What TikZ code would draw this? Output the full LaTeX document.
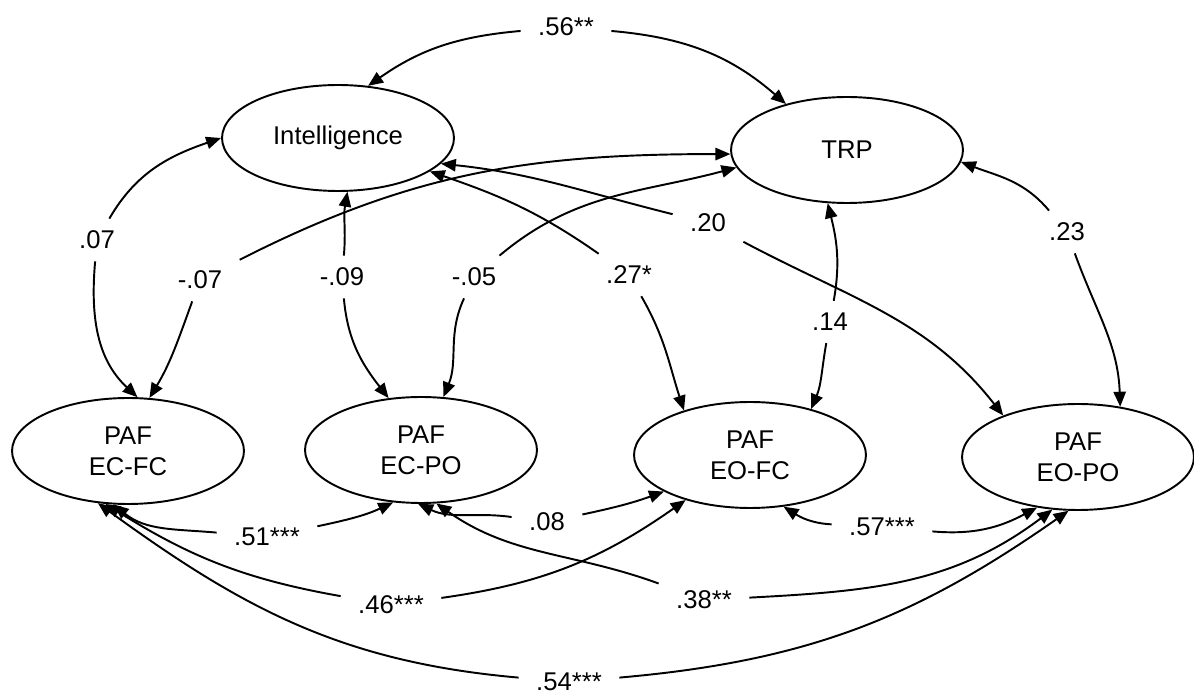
\documentclass[tikz,border=0pt]{standalone}
\usepackage{fontspec}
\setmainfont{Liberation Sans}
\usetikzlibrary{arrows.meta,shapes.geometric}

\begin{document}
\begin{tikzpicture}[x=0.02cm,y=-0.02cm]
			\tikzset{
			  VertexStyle/.style = { draw, ellipse, line width=1.1pt, inner sep=0pt,
			                         minimum width=4.64cm, minimum height=2.12cm,
			                         align=center, font=\fontsize{14.6}{17.5}\selectfont },
			  LabelStyle/.style = { inner xsep=10pt, inner ysep=7pt, outer sep=0pt,
			                        font=\fontsize{14.6}{17.5}\selectfont },
			  EdgeStyle/.style = { line width=1.1pt, -{Triangle[length=8.5pt,width=7pt]} } }
			\useasboundingbox (0,0) rectangle (1194,695);
			% latent variables
			\node[VertexStyle] (intel) at (338,138) {Intelligence};
			\node[VertexStyle] (trp) at (847,150) {TRP};
			\node[VertexStyle] (ecfc) at (128,451) {PAF\\EC-FC};
			\node[VertexStyle] (ecpo) at (421,450) {PAF\\EC-PO};
			\node[VertexStyle] (eofc) at (750,455) {PAF\\EO-FC};
			\node[VertexStyle] (eopo) at (1078,457) {PAF\\EO-PO};
			% correlations
			\node[LabelStyle] (l56) at (566,27) {.56**};
			\node[LabelStyle] (l07) at (97,240) {.07};
			\node[LabelStyle] (lm07) at (200,280) {-.07};
			\node[LabelStyle] (lm09) at (342,277) {-.09};
			\node[LabelStyle] (lm05) at (474,277) {-.05};
			\node[LabelStyle] (l27) at (629,275) {.27*};
			\node[LabelStyle] (l20) at (708,223) {.20};
			\node[LabelStyle] (l14) at (830,322) {.14};
			\node[LabelStyle] (l23) at (1067,232) {.23};
			\node[LabelStyle] (l51) at (267,537) {.51***};
			\node[LabelStyle] (l08) at (547,522) {.08};
			\node[LabelStyle] (l57) at (882,527) {.57***};
			\node[LabelStyle] (l46) at (391,605) {.46***};
			\node[LabelStyle] (l38) at (704,600) {.38**};
			\node[LabelStyle] (l54) at (569,682) {.54***};
			\draw[EdgeStyle] (l56) to[out=185,in=35] (intel.60);
			\draw[EdgeStyle] (l56) to[out=-5,in=139] (trp.143);
			\draw[EdgeStyle] (l07) to[out=60,in=-161] (intel.180);
			\draw[EdgeStyle] (l07) to[out=-95,in=137] (ecfc.80);
			\draw[EdgeStyle] (lm07) to[out=-110,in=59] (ecfc.68);
			\draw[EdgeStyle] (lm07) to[out=27,in=180] (trp.182);
			\draw[EdgeStyle] (lm09) to[out=85,in=-100] (intel.-80);
			\draw[EdgeStyle] (lm09) to[out=-85,in=128] (ecpo.122);
			\draw[EdgeStyle] (lm05) to[out=-115,in=68] (ecpo.67);
			\draw[EdgeStyle] (lm05) to[out=40,in=195] (trp.-171);
			\draw[EdgeStyle] (l27) to[out=145,in=-19] (intel.-20);
			\draw[EdgeStyle] (l27) to[out=-60,in=108] (eofc.146);
			\draw[EdgeStyle] (l20) to[out=166,in=-6] (intel.-14);
			\draw[EdgeStyle] (l20) to[out=-28,in=128] (eopo.151);
			\draw[EdgeStyle] (l14) to[out=80,in=-76] (trp.-110);
			\draw[EdgeStyle] (l14) to[out=-100,in=67] (eofc.37);
			\draw[EdgeStyle] (l23) to[out=130,in=-21] (trp.-6);
			\draw[EdgeStyle] (l23) to[out=-70,in=92] (eopo.50);
			\draw[EdgeStyle] (l51) to[out=175,in=-39] (ecfc.-105);
			\draw[EdgeStyle] (l51) to[out=12,in=-155] (ecpo.-118);
			\draw[EdgeStyle] (l08) to[out=172,in=-25] (ecpo.-93);
			\draw[EdgeStyle] (l08) to[out=12,in=-160] (eofc.-157);
			\draw[EdgeStyle] (l57) to[out=177,in=-32] (eofc.-57);
			\draw[EdgeStyle] (l57) to[out=-5,in=-152] (eopo.-129);
			\draw[EdgeStyle] (l46) to[out=170,in=-32] (ecfc.-113);
			\draw[EdgeStyle] (l46) to[out=8,in=-145] (eofc.-145);
			\draw[EdgeStyle] (l38) to[out=160,in=-35] (ecpo.-74);
			\draw[EdgeStyle] (l38) to[out=3,in=-143] (eopo.-116);
			\draw[EdgeStyle] (l54) to[out=175,in=-36] (ecfc.-120);
			\draw[EdgeStyle] (l54) to[out=5,in=-145] (eopo.-100);
		\end{tikzpicture}
\end{document}
